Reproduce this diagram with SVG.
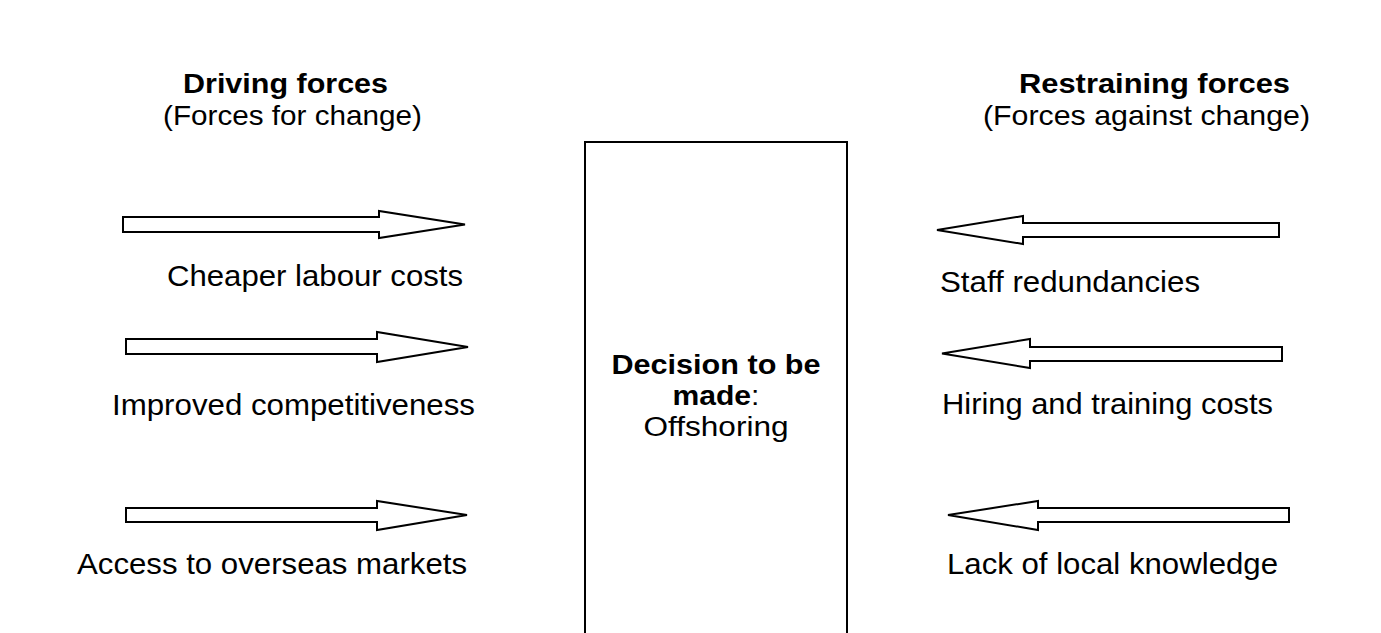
<svg xmlns="http://www.w3.org/2000/svg" width="1381" height="633" viewBox="0 0 1381 633">
<style>
.t{font-family:"Liberation Sans",Arial,sans-serif;font-size:30px;fill:#000}
.h{font-size:28px}
.c{font-size:27px}
.b{font-weight:bold}
.arrow{fill:#fff;stroke:#000;stroke-width:2;stroke-linejoin:miter}
.box{fill:#fff;stroke:#000;stroke-width:2}
</style>
<rect width="1381" height="633" fill="#fff"/>
<g id="header-driving">
<text class="t h b" x="183" y="93" textLength="205" lengthAdjust="spacingAndGlyphs">Driving forces</text>
<text class="t h" x="163" y="125" textLength="259" lengthAdjust="spacingAndGlyphs">(Forces for change)</text>
</g>
<g id="header-restraining">
<text class="t h b" x="1019" y="93" textLength="271" lengthAdjust="spacingAndGlyphs">Restraining forces</text>
<text class="t h" x="983" y="125" textLength="327" lengthAdjust="spacingAndGlyphs">(Forces against change)</text>
</g>
<g id="decision">
<path class="box" d="M585,645 V142 H847 V645"/>
<text class="t c b" x="716" y="374" text-anchor="middle" textLength="209" lengthAdjust="spacingAndGlyphs">Decision to be</text>
<text class="t c" x="716" y="405" text-anchor="middle" textLength="87" lengthAdjust="spacingAndGlyphs"><tspan class="b">made</tspan>:</text>
<text class="t c" x="716" y="436" text-anchor="middle" textLength="145" lengthAdjust="spacingAndGlyphs">Offshoring</text>
</g>
<g id="connectors">
<polygon class="arrow" points="123,217 379,217 379,211 465,224.5 379,238 379,232 123,232"/>
<polygon class="arrow" points="126,339 377,339 377,332 468,347 377,362 377,354 126,354"/>
<polygon class="arrow" points="126,508 377,508 377,501 467,515 377,530 377,522 126,522"/>
<polygon class="arrow" points="1279,223 1023,223 1023,216 937,230 1023,244 1023,237 1279,237"/>
<polygon class="arrow" points="1282,347 1030,347 1030,339 942,353.5 1030,368 1030,361 1282,361"/>
<polygon class="arrow" points="1289,508 1038,508 1038,501 948,515 1038,530 1038,522 1289,522"/>
</g>
<g id="force-cheaper"><text class="t" x="167" y="286" textLength="296" lengthAdjust="spacingAndGlyphs">Cheaper labour costs</text></g>
<g id="force-competitiveness"><text class="t" x="112" y="415" textLength="363" lengthAdjust="spacingAndGlyphs">Improved competitiveness</text></g>
<g id="force-markets"><text class="t" x="77" y="574" textLength="390" lengthAdjust="spacingAndGlyphs">Access to overseas markets</text></g>
<g id="force-redundancies"><text class="t" x="940" y="292" textLength="260" lengthAdjust="spacingAndGlyphs">Staff redundancies</text></g>
<g id="force-hiring"><text class="t" x="942" y="414" textLength="331" lengthAdjust="spacingAndGlyphs">Hiring and training costs</text></g>
<g id="force-knowledge"><text class="t" x="947" y="574" textLength="331" lengthAdjust="spacingAndGlyphs">Lack of local knowledge</text></g>
</svg>
